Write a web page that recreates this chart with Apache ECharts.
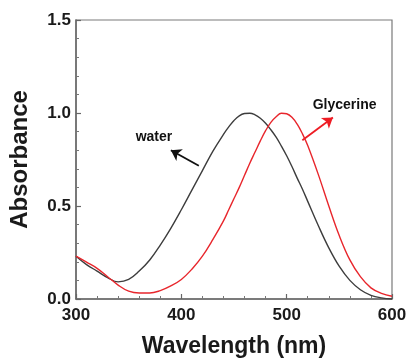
<!DOCTYPE html>
<html>
<head>
<meta charset="utf-8">
<script src="https://cdn.jsdelivr.net/npm/echarts@6/dist/echarts.min.js"></script>
<style>
  html, body { margin: 0; padding: 0; background: #fff; }
  #chart { width: 411px; height: 363px; }
</style>
</head>
<body>
<div id="chart"></div>
<script>
// Wavelength grid (nm) for both spectra: 10 nm steps, 5 nm around the band maxima
const wavelengths = [300, 310, 320, 330, 340, 350, 360, 370, 380, 390, 400, 410, 420, 430,
  440, 445, 450, 455, 460, 465, 470, 475, 480, 485, 490, 495, 500, 505, 510, 515, 520,
  530, 540, 550, 560, 570, 580, 590, 600];

// Normalised absorbance in water
const waterAbs = [0.23, 0.185, 0.15, 0.115, 0.092, 0.105, 0.15, 0.21, 0.29, 0.38, 0.48, 0.585, 0.69, 0.795,
  0.885, 0.925, 0.96, 0.985, 0.997, 0.999, 0.99, 0.972, 0.945, 0.91, 0.87, 0.822, 0.77, 0.712, 0.65, 0.59, 0.525,
  0.395, 0.275, 0.175, 0.10, 0.05, 0.02, 0.006, 0.0];

// Normalised absorbance in glycerine
const glycerineAbs = [0.23, 0.198, 0.165, 0.12, 0.075, 0.042, 0.032, 0.032, 0.045, 0.07, 0.105, 0.16, 0.23, 0.32,
  0.42, 0.48, 0.54, 0.60, 0.665, 0.73, 0.79, 0.85, 0.905, 0.95, 0.98, 0.999, 0.996, 0.977, 0.94, 0.888, 0.825,
  0.67, 0.50, 0.34, 0.21, 0.12, 0.06, 0.03, 0.015];

// Axis ticks
const xTicks = { min: 300, max: 600, step: 100 };
const yTicks = { min: 0, max: 1.5, step: 0.5 };

// Annotation labels and their arrows ([tail], [head]) in data units
const waterLabel = ['water', 374, 0.87];
const glycerineLabel = ['Glycerine', 555, 1.04];
const waterArrow = [[416.6, 0.716], [390.1, 0.80]];
const glycerineArrow = [[514.9, 0.854], [543.9, 0.976]];

const font = 'Liberation Sans, Arial, sans-serif';
const pairs = (xs, ys) => xs.map((x, i) => [x, ys[i]]);

const chart = echarts.init(document.getElementById('chart'), null, { renderer: 'canvas' });

chart.setOption({
  backgroundColor: '#fff',
  animation: false,
  grid: {
    left: 72, right: 19, top: 20, bottom: 64,
    show: true, borderColor: '#7a7a7a', borderWidth: 1.2, backgroundColor: 'transparent'
  },
  xAxis: {
    type: 'value',
    min: xTicks.min, max: xTicks.max, interval: xTicks.step,
    name: 'Wavelength (nm)',
    nameLocation: 'middle',
    nameGap: 36,
    nameTextStyle: { fontFamily: font, fontWeight: 'bold', fontSize: 23, color: '#1a1a1a' },
    axisLine: { lineStyle: { color: '#666', width: 1.5 } },
    axisTick: { inside: true, length: 5, lineStyle: { color: '#666', width: 1.2 } },
    minorTick: { show: true, splitNumber: 5, length: 3, lineStyle: { color: '#777', width: 1 } },
    splitLine: { show: false },
    axisLabel: { fontFamily: font, fontWeight: 'bold', fontSize: 17, color: '#1a1a1a', margin: 8 }
  },
  yAxis: {
    type: 'value',
    min: yTicks.min, max: yTicks.max, interval: yTicks.step,
    name: 'Absorbance',
    nameLocation: 'middle',
    nameGap: 44,
    nameTextStyle: { fontFamily: font, fontWeight: 'bold', fontSize: 24, color: '#1a1a1a' },
    axisLine: { show: true, lineStyle: { color: '#666', width: 1.5 } },
    axisTick: { show: true, inside: true, length: 5, lineStyle: { color: '#666', width: 1.2 } },
    minorTick: { show: true, splitNumber: 5, length: 3, lineStyle: { color: '#777', width: 1 } },
    splitLine: { show: false },
    axisLabel: {
      fontFamily: font, fontWeight: 'bold', fontSize: 17, color: '#1a1a1a', margin: 5,
      formatter: v => v.toFixed(1)
    }
  },
  series: [
    {
      name: 'water', type: 'line', data: pairs(wavelengths, waterAbs),
      smooth: 0.4, showSymbol: false,
      lineStyle: { color: '#3d3d3d', width: 1.4 }
    },
    {
      name: 'Glycerine', type: 'line', data: pairs(wavelengths, glycerineAbs),
      smooth: 0.4, showSymbol: false,
      lineStyle: { color: '#e8262c', width: 1.4 }
    },
    {
      type: 'lines', coordinateSystem: 'cartesian2d', silent: true,
      symbol: ['none', 'arrow'], symbolSize: 10,
      data: [
        { coords: waterArrow, lineStyle: { color: '#111', width: 1.8, opacity: 1 } },
        { coords: glycerineArrow, lineStyle: { color: '#ee1c24', width: 1.8, opacity: 1 } }
      ]
    },
    {
      type: 'scatter', symbolSize: 0, silent: true,
      itemStyle: { opacity: 1 },
      data: [
        { value: [waterLabel[1], waterLabel[2]], name: waterLabel[0] },
        { value: [glycerineLabel[1], glycerineLabel[2]], name: glycerineLabel[0] }
      ],
      label: {
        show: true, position: 'inside', formatter: p => p.name,
        fontFamily: font, fontWeight: 'bold', fontSize: 14, color: '#111'
      }
    }
  ]
});
</script>
</body>
</html>
